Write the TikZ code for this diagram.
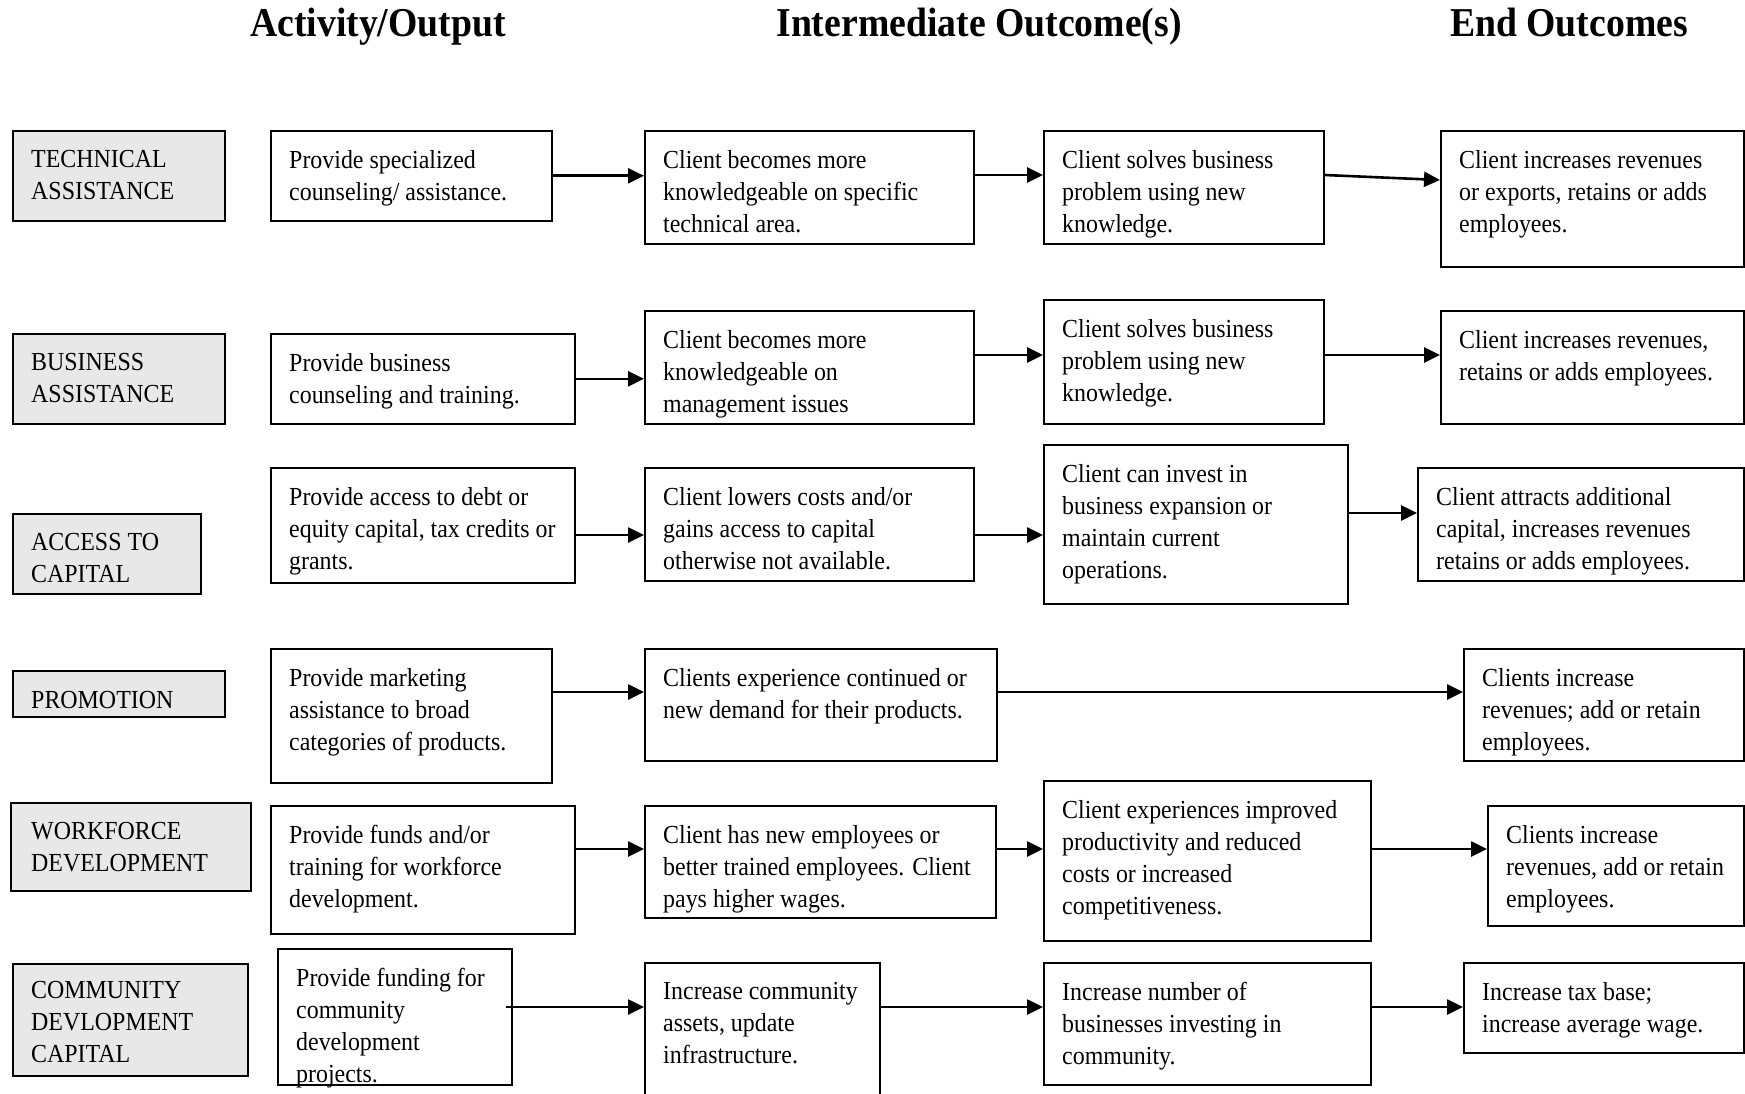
\documentclass[tikz,border=0pt]{standalone}
\usepackage{fontspec}
\setmainfont{Liberation Serif}[FakeStretch=0.92]
\usetikzlibrary{arrows.meta}
\newcommand{\bodyfont}{\fontsize{26}{32}\selectfont}
\newcommand{\headfont}{\fontsize{41}{48}\selectfont\bfseries}
\tikzset{
  lab/.style={draw, line width=1.6pt, fill=black!9, anchor=north west, inner sep=0pt},
  outbox/.style={draw, line width=1.6pt, anchor=north west, inner sep=0pt},
  txt/.style={anchor=north west, align=left, inner sep=0pt, font=\bodyfont},
  head/.style={anchor=base, inner sep=0pt, font=\headfont},
  flow/.style={line width=2.6pt, -{Triangle[length=16pt,width=15pt]}},
}
\begin{document}
\begin{tikzpicture}[x=1pt,y=-1pt]
\useasboundingbox (0,0) rectangle (1745,1094);
% column headings
\node[head] (hact) at (378,37) {Activity/Output};
\node[head] (hmid) at (979,37) {Intermediate Outcome(s)};
\node[head] (hend) at (1569,37) {End Outcomes};

% row 1
\node[lab, minimum width=212pt, minimum height=90pt] (lab1) at (12,130) {}; % label box
\node[txt] (lab1t) at ([shift={(19,20)}]lab1.north west) {TECHNICAL\\ASSISTANCE};
\node[outbox, minimum width=281pt, minimum height=90pt] (act1) at (270,130) {};
\node[txt] (act1t) at ([shift={(19,20)}]act1.north west) {Provide specialized\\counseling/ assistance.};
\node[outbox, minimum width=329pt, minimum height=113pt] (imA1) at (644,130) {};
\node[txt] (imA1t) at ([shift={(19,20)}]imA1.north west) {Client becomes more\\knowledgeable on specific\\technical area.};
\node[outbox, minimum width=280pt, minimum height=113pt] (imB1) at (1043,130) {};
\node[txt] (imB1t) at ([shift={(19,20)}]imB1.north west) {Client solves business\\problem using new\\knowledge.};
\node[outbox, minimum width=303pt, minimum height=136pt] (end1) at (1440,130) {};
\node[txt] (end1t) at ([shift={(19,20)}]end1.north west) {Client increases revenues\\or exports, retains or adds\\employees.};
\draw[flow] (act1.east) -- (act1.east -| imA1.west); % arrows
\draw[flow] ([yshift=-45pt]imA1.north east) -- ([yshift=-45pt]imB1.north west);
\draw[flow] ([yshift=-45pt]imB1.north east) -- ([yshift=-50pt]end1.north west);

% row 2
\node[lab, minimum width=212pt, minimum height=90pt] (lab2) at (12,333) {};
\node[txt] (lab2t) at ([shift={(19,20)}]lab2.north west) {BUSINESS\\ASSISTANCE};
\node[outbox, minimum width=304pt, minimum height=90pt] (act2) at (270,333) {};
\node[txt] (act2t) at ([shift={(19,20)}]act2.north west) {Provide business\\counseling and training.};
\node[outbox, minimum width=329pt, minimum height=113pt] (imA2) at (644,310) {};
\node[txt] (imA2t) at ([shift={(19,20)}]imA2.north west) {Client becomes more\\knowledgeable on\\management issues};
\node[outbox, minimum width=280pt, minimum height=124pt] (imB2) at (1043,299) {};
\node[txt] (imB2t) at ([shift={(19,20)}]imB2.north west) {Client solves business\\problem using new\\knowledge.};
\node[outbox, minimum width=303pt, minimum height=113pt] (end2) at (1440,310) {};
\node[txt] (end2t) at ([shift={(19,20)}]end2.north west) {Client increases revenues,\\retains or adds employees.};
\draw[flow] (act2.east) -- (act2.east -| imA2.west); % arrows
\draw[flow] ([yshift=-45pt]imA2.north east) -- ([yshift=-56pt]imB2.north west);
\draw[flow] ([yshift=-56pt]imB2.north east) -- ([yshift=-45pt]end2.north west);

% row 3
\node[lab, minimum width=188pt, minimum height=80pt] (lab3) at (12,513) {};
\node[txt] (lab3t) at ([shift={(19,20)}]lab3.north west) {ACCESS TO\\CAPITAL};
\node[outbox, minimum width=304pt, minimum height=115pt] (act3) at (270,467) {};
\node[txt] (act3t) at ([shift={(19,20)}]act3.north west) {Provide access to debt or\\equity capital, tax credits or\\grants.};
\node[outbox, minimum width=329pt, minimum height=113pt] (imA3) at (644,467) {};
\node[txt] (imA3t) at ([shift={(19,20)}]imA3.north west) {Client lowers costs and/or\\gains access to capital\\otherwise not available.};
\node[outbox, minimum width=304pt, minimum height=159pt] (imB3) at (1043,444) {};
\node[txt] (imB3t) at ([shift={(19,20)}]imB3.north west) {Client can invest in\\business expansion or\\maintain current\\operations.};
\node[outbox, minimum width=326pt, minimum height=113pt] (end3) at (1417,467) {};
\node[txt] (end3t) at ([shift={(19,20)}]end3.north west) {Client attracts additional\\capital, increases revenues\\retains or adds employees.};
\draw[flow] ([yshift=-68pt]act3.north east) -- ([yshift=-68pt]imA3.north west); % arrows
\draw[flow] ([yshift=-68pt]imA3.north east) -- ([yshift=-91pt]imB3.north west);
\draw[flow] ([yshift=-69pt]imB3.north east) -- ([yshift=-46pt]end3.north west);

% row 4
\node[lab, minimum width=212pt, minimum height=46pt] (lab4) at (12,670) {};
\node[txt] (lab4t) at ([shift={(19,21)}]lab4.north west) {PROMOTION};
\node[outbox, minimum width=281pt, minimum height=134pt] (act4) at (270,648) {};
\node[txt] (act4t) at ([shift={(19,20)}]act4.north west) {Provide marketing\\assistance to broad\\categories of products.};
\node[outbox, minimum width=352pt, minimum height=112pt] (imA4) at (644,648) {};
\node[txt] (imA4t) at ([shift={(19,20)}]imA4.north west) {Clients experience continued or\\new demand for their products.};
\node[outbox, minimum width=280pt, minimum height=112pt] (end4) at (1463,648) {};
\node[txt] (end4t) at ([shift={(19,20)}]end4.north west) {Clients increase\\revenues; add or retain\\employees.};
\draw[flow] ([yshift=-44pt]act4.north east) -- ([yshift=-44pt]imA4.north west); % arrows
\draw[flow] ([yshift=-44pt]imA4.north east) -- ([yshift=-44pt]end4.north west);

% row 5
\node[lab, minimum width=240pt, minimum height=88pt] (lab5) at (10,802) {};
\node[txt] (lab5t) at ([shift={(21,20)}]lab5.north west) {WORKFORCE\\DEVELOPMENT};
\node[outbox, minimum width=304pt, minimum height=128pt] (act5) at (270,805) {};
\node[txt] (act5t) at ([shift={(19,20)}]act5.north west) {Provide funds and/or\\training for workforce\\development.};
\node[outbox, minimum width=351pt, minimum height=112pt] (imA5) at (644,805) {};
\node[txt] (imA5t) at ([shift={(19,20)}]imA5.north west) {Client has new employees or\\better trained employees. Client\\pays higher wages.};
\node[outbox, minimum width=327pt, minimum height=160pt] (imB5) at (1043,780) {};
\node[txt] (imB5t) at ([shift={(19,20)}]imB5.north west) {Client experiences improved\\productivity and reduced\\costs or increased\\competitiveness.};
\node[outbox, minimum width=256pt, minimum height=120pt] (end5) at (1487,805) {};
\node[txt] (end5t) at ([shift={(19,20)}]end5.north west) {Clients increase\\revenues, add or retain\\employees.};
\draw[flow] ([yshift=-44pt]act5.north east) -- ([yshift=-44pt]imA5.north west); % arrows
\draw[flow] ([yshift=-44pt]imA5.north east) -- ([yshift=-69pt]imB5.north west);
\draw[flow] ([yshift=-69pt]imB5.north east) -- ([yshift=-44pt]end5.north west);

% row 6
\node[lab, minimum width=235pt, minimum height=112pt] (lab6) at (12,963) {};
\node[txt] (lab6t) at ([shift={(19,18)}]lab6.north west) {COMMUNITY\\DEVLOPMENT\\CAPITAL};
\node[outbox, minimum width=234pt, minimum height=136pt] (act6) at (277,948) {};
\node[txt] (act6t) at ([shift={(19,20)}]act6.north west) {Provide funding for\\community\\development\\projects.};
\node[outbox, minimum width=235pt, minimum height=140pt] (imA6) at (644,962) {};
\node[txt] (imA6t) at ([shift={(19,20)}]imA6.north west) {Increase community\\assets, update\\infrastructure.};
\node[outbox, minimum width=327pt, minimum height=122pt] (imB6) at (1043,962) {};
\node[txt] (imB6t) at ([shift={(19,20)}]imB6.north west) {Increase number of\\businesses investing in\\community.};
\node[outbox, minimum width=280pt, minimum height=90pt] (end6) at (1463,962) {};
\node[txt] (end6t) at ([shift={(19,20)}]end6.north west) {Increase tax base;\\increase average wage.};
\draw[flow] ([xshift=-7pt,yshift=-59pt]act6.north east) -- ([yshift=-45pt]imA6.north west); % arrows
\draw[flow] ([yshift=-45pt]imA6.north east) -- ([yshift=-45pt]imB6.north west);
\draw[flow] ([yshift=-45pt]imB6.north east) -- ([yshift=-45pt]end6.north west);
\end{tikzpicture}
\end{document}
